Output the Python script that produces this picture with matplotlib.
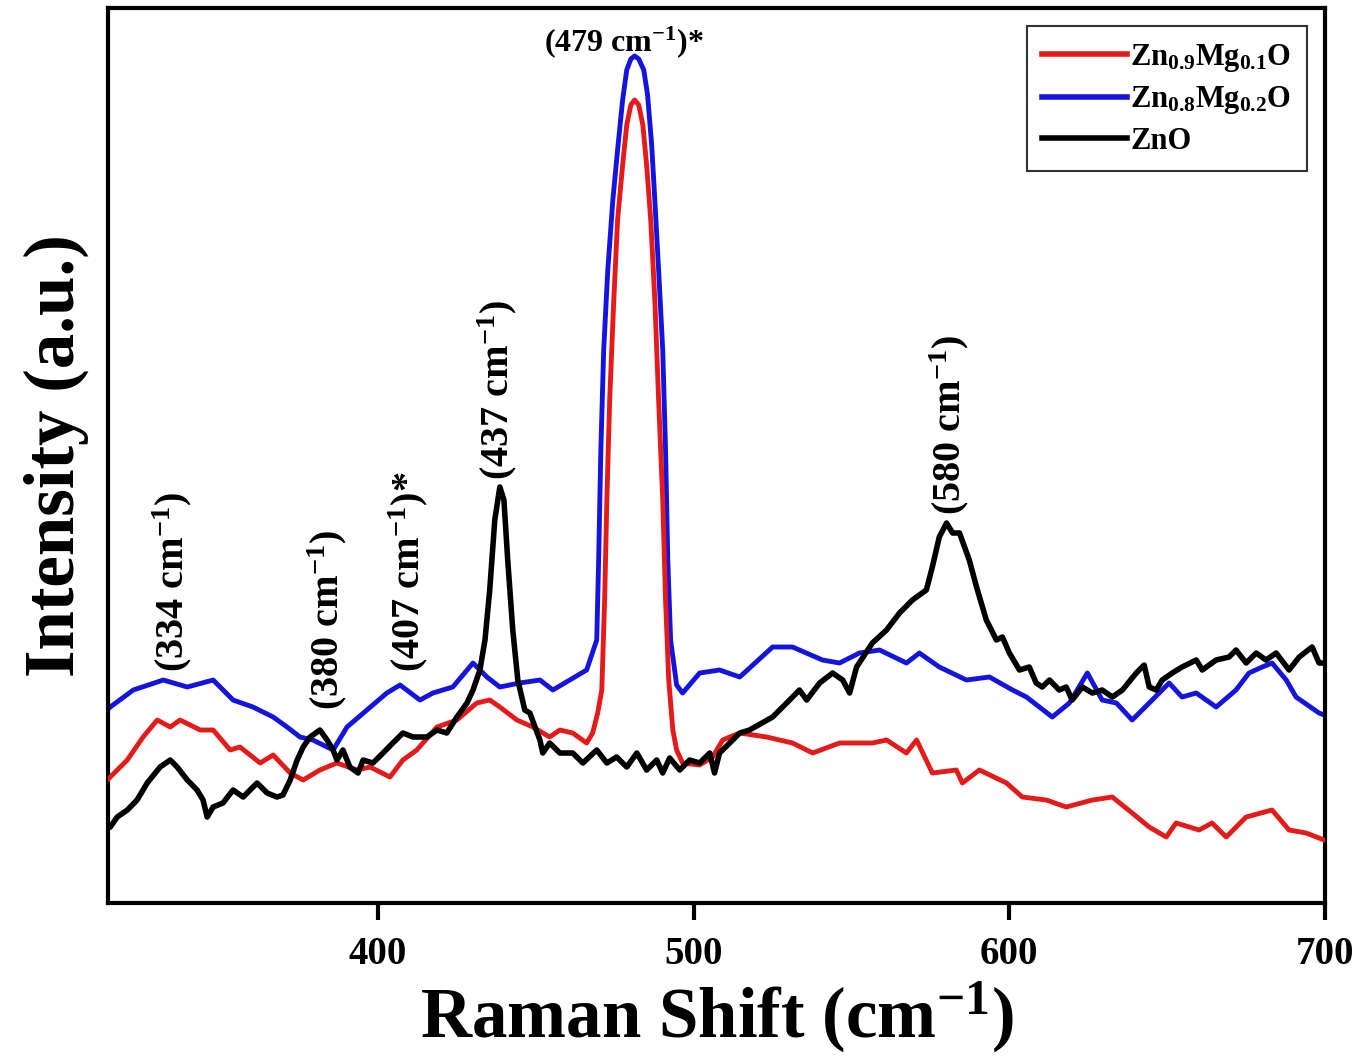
import matplotlib
matplotlib.use('Agg')
import matplotlib.pyplot as plt
from matplotlib.lines import Line2D

plt.rcParams['font.family'] = ['Liberation Serif', 'DejaVu Serif']
plt.rcParams['font.weight'] = 'bold'
plt.rcParams['mathtext.fontset'] = 'custom'
plt.rcParams['mathtext.rm'] = 'Liberation Serif:bold'
plt.rcParams['mathtext.it'] = 'Liberation Serif:bold'
plt.rcParams['mathtext.bf'] = 'Liberation Serif:bold'
plt.rcParams['mathtext.default'] = 'rm'

# Raman shift (cm^-1) and intensity (a.u.)
zno_x = [314.6, 315.2, 317.4, 320.6, 323.7, 326.9, 331.0, 334.2, 336.4, 339.6, 342.7, 344.6,
         345.9, 347.8, 350.9, 354.1, 357.3, 361.7, 364.9, 368.0, 369.9, 372.2, 374.4, 376.3,
         378.5, 381.6, 383.9, 385.8, 387.0, 388.9, 391.1, 393.7, 395.3, 398.4, 401.6, 404.7,
         407.9, 411.1, 415.5, 418.7, 421.8, 425.0, 428.2, 430.1, 432.3, 433.9, 435.4, 437.0,
         438.6, 439.9, 441.1, 442.7, 444.3, 446.5, 448.1, 451.3, 452.2, 454.4, 457.6, 461.7,
         464.9, 469.3, 472.5, 475.6, 478.8, 482.0, 485.1, 488.3, 490.2, 492.4, 495.6, 498.7,
         501.9, 505.1, 506.6, 508.2, 511.4, 514.6, 517.7, 525.0, 530.4, 533.5, 535.8, 539.9,
         544.0, 547.2, 549.4, 551.6, 556.6, 561.1, 565.2, 569.3, 573.7, 575.6, 577.8, 580.1,
         582.0, 584.2, 587.3, 589.6, 592.7, 595.9, 597.8, 600.0, 603.2, 606.3, 608.5, 610.4,
         612.7, 615.8, 618.0, 619.9, 623.1, 626.3, 629.4, 632.6, 635.8, 640.2, 642.7, 644.3,
         646.5, 648.4, 651.6, 654.7, 659.2, 661.1, 665.5, 669.6, 671.8, 675.0, 678.2, 681.3,
         684.5, 688.6, 691.8, 695.9, 698.1, 699.7]
zno_y = [75, 76, 86, 93, 103, 120, 136, 143, 136, 123, 113, 103,
         86, 96, 100, 113, 106, 120, 110, 106, 108, 123, 143, 156,
         166, 173, 163, 153, 143, 153, 136, 130, 143, 140, 150, 160,
         170, 166, 166, 173, 170, 186, 200, 213, 233, 263, 313, 383,
         416, 403, 343, 273, 223, 193, 190, 163, 150, 160, 150, 150,
         140, 153, 140, 146, 136, 150, 133, 143, 130, 145, 133, 143,
         140, 150, 130, 150, 160, 170, 173, 186, 203, 213, 203, 220,
         230, 223, 210, 236, 260, 273, 290, 303, 313, 336, 366, 380,
         370, 370, 343, 316, 283, 263, 266, 250, 233, 236, 220, 216,
         223, 213, 216, 203, 216, 210, 213, 206, 213, 230, 238, 216,
         213, 223, 230, 236, 243, 233, 243, 246, 253, 240, 250, 243,
         250, 233, 246, 256, 240, 240]

mg02_x = [314.6, 315.2, 322.5, 332.0, 339.6, 347.8, 354.1, 360.4, 366.8, 371.2, 375.3, 379.4,
          385.8, 390.2, 396.5, 402.8, 407.0, 413.3, 417.4, 423.7, 430.1, 434.5, 438.6, 444.9,
          451.3, 455.4, 466.1, 469.3, 469.9, 470.6, 471.5, 472.8, 474.4, 475.9, 477.5, 478.8,
          480.1, 481.3, 482.6, 484.2, 485.4, 486.7, 487.7, 488.9, 490.2, 491.1, 491.8, 492.7,
          494.6, 496.5, 501.9, 508.2, 514.6, 525.0, 531.3, 540.8, 546.2, 552.5, 558.9, 567.4,
          571.5, 577.8, 586.4, 593.7, 601.0, 605.4, 613.6, 619.0, 624.7, 629.4, 633.9, 638.9,
          644.3, 650.6, 654.7, 659.2, 665.5, 671.8, 675.9, 680.1, 683.2, 687.7, 690.8, 698.1,
          699.7]
mg02_y = [194, 196, 213, 223, 216, 223, 203, 196, 186, 176, 166, 163,
          153, 176, 193, 210, 218, 203, 210, 216, 240, 226, 216, 220,
          223, 213, 233, 263, 343, 453, 553, 633, 703, 753, 803, 833,
          844, 847, 844, 833, 808, 758, 703, 633, 553, 453, 343, 263,
          218, 210, 230, 233, 226, 256, 256, 243, 240, 250, 253, 240,
          250, 236, 223, 226, 213, 206, 186, 200, 230, 203, 200, 183,
          200, 220, 206, 210, 196, 213, 230, 236, 240, 223, 206, 190,
          188]

mg01_x = [314.6, 315.2, 320.6, 325.6, 330.1, 334.2, 337.3, 343.7, 347.8, 353.2, 356.3, 362.7,
          366.8, 372.2, 376.3, 381.6, 387.0, 393.4, 397.5, 403.8, 407.9, 412.3, 418.7, 425.0,
          431.3, 435.4, 438.6, 444.0, 449.1, 454.4, 457.6, 461.7, 466.1, 468.0, 469.6, 470.9,
          471.8, 472.5, 473.4, 474.7, 475.9, 477.5, 478.8, 480.1, 481.3, 482.6, 483.9, 485.1,
          486.4, 487.7, 488.9, 490.2, 491.1, 492.1, 493.4, 494.6, 496.5, 501.9, 506.0, 509.2,
          511.4, 514.6, 523.1, 531.3, 537.7, 546.2, 556.6, 561.1, 567.4, 570.6, 575.6, 583.2,
          585.1, 590.5, 599.1, 604.1, 611.7, 618.0, 626.3, 632.6, 638.9, 644.3, 649.7, 652.8,
          660.1, 664.2, 668.7, 675.0, 683.2, 688.6, 694.0, 699.7]
mg01_y = [124, 126, 143, 166, 183, 176, 183, 173, 173, 153, 156, 140,
          148, 130, 123, 133, 140, 133, 136, 126, 143, 153, 176, 183,
          200, 203, 196, 183, 176, 166, 173, 170, 160, 170, 190, 213,
          303, 403, 503, 603, 683, 738, 778, 798, 803, 798, 778, 738,
          683, 603, 503, 403, 303, 223, 173, 153, 140, 138, 146, 163,
          166, 170, 166, 160, 150, 160, 160, 163, 150, 163, 130, 133,
          120, 133, 120, 106, 103, 96, 103, 106, 90, 76, 66, 80,
          73, 80, 66, 86, 93, 73, 70, 63]

legend_labels = [r'Zn$_{0.9}$Mg$_{0.1}$O', r'Zn$_{0.8}$Mg$_{0.2}$O', 'ZnO']
line_colors = ['#e31b1b', '#1414dc', 'black']

peak_labels = [r'(334 cm$^{-1}$)', r'(380 cm$^{-1}$)', r'(407 cm$^{-1}$)*',
               r'(437 cm$^{-1}$)', r'(580 cm$^{-1}$)']
peak_pos = [334.8, 383.9, 409.5, 437.7, 581.0]
peak_base = [231, 193, 231, 423, 388]

fig = plt.figure(figsize=(13.71, 10.64), dpi=100)
ax = fig.add_axes([0.0788, 0.1513, 0.8877, 0.8412])

ax.plot(mg02_x, mg02_y, color=line_colors[1], lw=3.5, zorder=2)
ax.plot(mg01_x, mg01_y, color=line_colors[0], lw=3.5, zorder=3)
ax.plot(zno_x, zno_y, color=line_colors[2], lw=4, zorder=4)

for lab, xp, yb in zip(peak_labels, peak_pos, peak_base):
    ax.text(xp, yb, lab, rotation=90, ha='center', va='bottom', fontsize=29, fontweight='bold')
ax.text(477.8, 861, r'(479 cm$^{-1}$)*', ha='center', va='center', fontsize=23, fontweight='bold')

handles = [Line2D([], [], color=c, lw=4) for c in line_colors]
leg = ax.legend(handles, legend_labels, loc='upper right', fontsize=22, handlelength=2.8,
                handletextpad=0.1, borderaxespad=0.6, fancybox=False, framealpha=1,
                labelspacing=0.35, borderpad=0.5)
leg.get_frame().set_edgecolor('#333333')
leg.get_frame().set_linewidth(1.5)

ax.set_xlim(314.5, 700)
ax.set_ylim(0, 895)
ax.set_xticks([400, 500, 600, 700])
ax.set_yticks([])
ax.tick_params(axis='x', direction='out', length=12, width=3, labelsize=28, pad=12)
for lab in ax.get_xticklabels():
    lab.set_fontweight('bold')
for sp in ax.spines.values():
    sp.set_linewidth(3)

ax.set_xlabel(r'Raman Shift (cm$^{-1}$)', fontsize=51, fontweight='bold', labelpad=4)
ax.set_ylabel('Intensity (a.u.)', fontsize=51, fontweight='bold', labelpad=14)

fig.savefig('out.png', dpi=100)
